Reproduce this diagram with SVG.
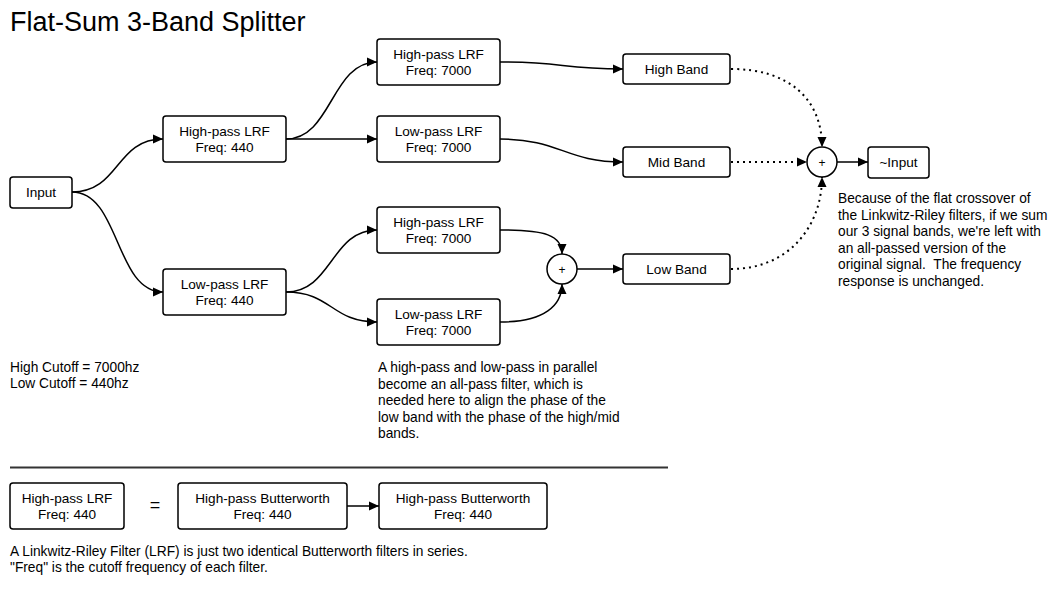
<svg xmlns="http://www.w3.org/2000/svg" width="1064" height="590" viewBox="0 0 1064 590">
<style>
text{font-family:"Liberation Sans",Arial,sans-serif;fill:#000;}
.t{font-size:13.6px;text-anchor:middle;}
.p{font-size:13.75px;}
.box{fill:#fff;stroke:#000;stroke-width:1.5;}
.c{fill:none;stroke:#000;stroke-width:1.5;}
.d{fill:none;stroke:#000;stroke-width:2;stroke-dasharray:2 4;}
</style>
<defs>
<marker id="ar" viewBox="0 0 10 10" refX="10" refY="5" markerWidth="10" markerHeight="10" markerUnits="userSpaceOnUse" orient="auto">
<path d="M0,0.5 L10,5 L0,9.5 Z" fill="#000"/>
</marker>
</defs>
<rect width="1064" height="590" fill="#fff"/>
<text x="10" y="31" style="font-size:27px">Flat-Sum 3-Band Splitter</text>

<g id="connectors">
<path class="c" d="M72,192 C120,192 115,139 163,139" marker-end="url(#ar)"/>
<path class="c" d="M72,192 C120,192 115,292 163,292" marker-end="url(#ar)"/>
<path class="c" d="M286,139 C332,139 331,62 377,62" marker-end="url(#ar)"/>
<path class="c" d="M286,139 L377,139" marker-end="url(#ar)"/>
<path class="c" d="M500,62 C565,62 560,69 623,69" marker-end="url(#ar)"/>
<path class="c" d="M500,139 C560,139 565,162 623,162" marker-end="url(#ar)"/>
<path class="c" d="M286,292 C332,292 331,230 377,230" marker-end="url(#ar)"/>
<path class="c" d="M286,292 C332,292 331,322 377,322" marker-end="url(#ar)"/>
<path class="c" d="M500,230 C545,230 562,235 562,254" marker-end="url(#ar)"/>
<path class="c" d="M500,322 C545,322 562,305 562,284" marker-end="url(#ar)"/>
<path class="c" d="M577,269 L623,269" marker-end="url(#ar)"/>
<path class="d" d="M731,69 C790,69 822,100 822,147" marker-end="url(#ar)"/>
<path class="d" d="M731,162 L807,162" marker-end="url(#ar)"/>
<path class="d" d="M731,269 C790,269 822,225 822,177" marker-end="url(#ar)"/>
<path class="c" d="M837,162 L868,162" marker-end="url(#ar)"/>
<path class="c" d="M347,506 L379,506" marker-end="url(#ar)"/>
</g>

<g id="input"><rect class="box" x="10" y="177" width="62" height="31" rx="3"/><text class="t" x="41" y="197">Input</text></g>
<g id="hp440"><rect class="box" x="163" y="116" width="123" height="46" rx="3"/><text class="t" x="224.5" y="136">High-pass LRF</text><text class="t" x="224.5" y="152">Freq: 440</text></g>
<g id="lp440"><rect class="box" x="163" y="269" width="123" height="46" rx="3"/><text class="t" x="224.5" y="289">Low-pass LRF</text><text class="t" x="224.5" y="305">Freq: 440</text></g>
<g id="hp7000a"><rect class="box" x="377" y="39" width="123" height="46" rx="3"/><text class="t" x="438.5" y="59">High-pass LRF</text><text class="t" x="438.5" y="75">Freq: 7000</text></g>
<g id="lp7000a"><rect class="box" x="377" y="116" width="123" height="46" rx="3"/><text class="t" x="438.5" y="136">Low-pass LRF</text><text class="t" x="438.5" y="152">Freq: 7000</text></g>
<g id="hp7000b"><rect class="box" x="377" y="207" width="123" height="46" rx="3"/><text class="t" x="438.5" y="227">High-pass LRF</text><text class="t" x="438.5" y="243">Freq: 7000</text></g>
<g id="lp7000b"><rect class="box" x="377" y="299" width="123" height="46" rx="3"/><text class="t" x="438.5" y="319">Low-pass LRF</text><text class="t" x="438.5" y="335">Freq: 7000</text></g>
<g id="highband"><rect class="box" x="623" y="54" width="107" height="30" rx="3"/><text class="t" x="676.5" y="74">High Band</text></g>
<g id="midband"><rect class="box" x="623" y="147" width="107" height="30" rx="3"/><text class="t" x="676.5" y="167">Mid Band</text></g>
<g id="lowband"><rect class="box" x="623" y="254" width="107" height="30" rx="3"/><text class="t" x="676.5" y="274">Low Band</text></g>
<g id="sum1"><circle class="box" cx="562" cy="269" r="15"/><text class="t" x="562" y="273.5" style="font-size:12px">+</text></g>
<g id="sum2"><circle class="box" cx="822" cy="162" r="15"/><text class="t" x="822" y="166.5" style="font-size:12px">+</text></g>
<g id="output"><rect class="box" x="868" y="147" width="61" height="31" rx="3"/><text class="t" x="898.5" y="167">~Input</text></g>

<g id="note-cutoff">
<text class="p" x="10" y="372">High Cutoff = 7000hz</text>
<text class="p" x="10" y="388">Low Cutoff = 440hz</text>
</g>
<g id="note-allpass">
<text class="p" x="378" y="372">A high-pass and low-pass in parallel</text>
<text class="p" x="378" y="388.5">become an all-pass filter, which is</text>
<text class="p" x="378" y="405">needed here to align the phase of the</text>
<text class="p" x="378" y="421.5">low band with the phase of the high/mid</text>
<text class="p" x="378" y="438">bands.</text>
</g>
<g id="note-flat">
<text class="p" x="838" y="203">Because of the flat crossover of</text>
<text class="p" x="838" y="219.5">the Linkwitz-Riley filters, if we sum</text>
<text class="p" x="838" y="236">our 3 signal bands, we're left with</text>
<text class="p" x="838" y="252.5">an all-passed version of the</text>
<text class="p" x="838" y="269" xml:space="preserve">original signal.  The frequency</text>
<text class="p" x="838" y="285.5">response is unchanged.</text>
</g>

<line x1="10" y1="467.5" x2="668" y2="467.5" stroke="#333" stroke-width="2"/>

<g id="lrf"><rect class="box" x="10" y="483" width="114" height="46" rx="3"/><text class="t" x="67" y="503">High-pass LRF</text><text class="t" x="67" y="519">Freq: 440</text></g>
<text x="155" y="511" style="font-size:18px;text-anchor:middle">=</text>
<g id="bw1"><rect class="box" x="178" y="483" width="169" height="46" rx="3"/><text class="t" x="262.5" y="503">High-pass Butterworth</text><text class="t" x="262.5" y="519">Freq: 440</text></g>
<g id="bw2"><rect class="box" x="379" y="483" width="168" height="46" rx="3"/><text class="t" x="463" y="503">High-pass Butterworth</text><text class="t" x="463" y="519">Freq: 440</text></g>
<g id="note-lrf">
<text class="p" x="10" y="556">A Linkwitz-Riley Filter (LRF) is just two identical Butterworth filters in series.</text>
<text class="p" x="10" y="572">"Freq" is the cutoff frequency of each filter.</text>
</g>
</svg>
